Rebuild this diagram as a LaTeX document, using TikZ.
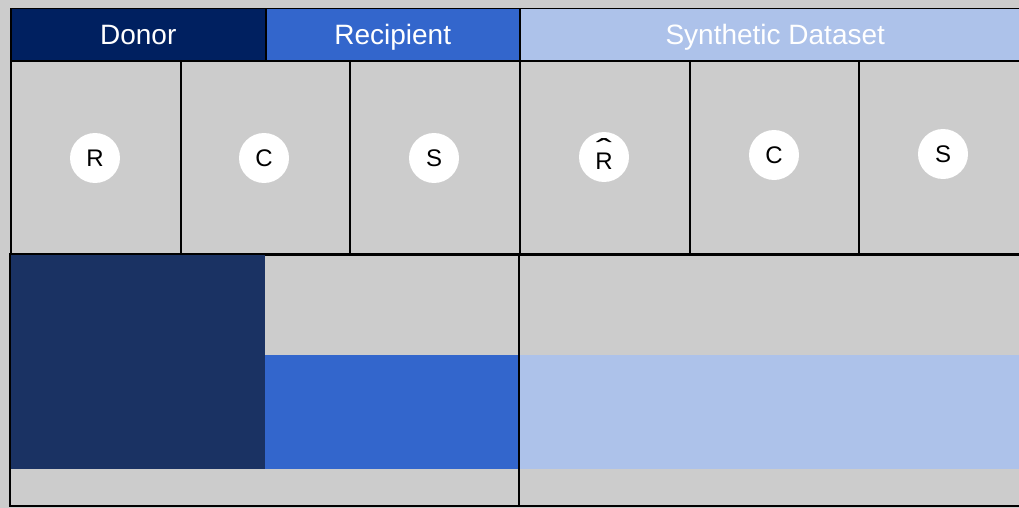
\documentclass[tikz,border=0pt]{standalone}
\usepackage{fontspec}
\setmainfont{Liberation Sans}
\definecolor{donor}{HTML}{002060}
\definecolor{recip}{HTML}{3366CC}
\definecolor{synth}{HTML}{ADC2EA}
\definecolor{donorblk}{HTML}{1A3263}
\definecolor{cellgray}{HTML}{CCCCCC}
% R with a wide circumflex set well above it
\newcommand{\Rhat}{\vphantom{R}\smash{\raisebox{-4.5pt}{R\kern-0.694em\raisebox{0.415em}{\scalebox{2}[1.2]{\char"02C6}}\kern0.028em}}}
\begin{document}
\begin{tikzpicture}[x=1pt,y=-1pt,
  hdr/.style={draw=black, line width=1.5pt, text=white, anchor=north west,
    inner sep=0pt, minimum height=52pt, text height=20pt, text depth=0pt,
    font=\fontsize{28}{32}\selectfont},
  cell/.style={draw=black, line width=2pt, fill=cellgray, anchor=north west,
    inner sep=0pt, minimum height=194pt},
  badge/.style={circle, fill=white, minimum size=50pt, inner sep=0pt,
    font=\fontsize{24}{28}\selectfont},
  frame/.style={draw=black, line width=2pt}]
\useasboundingbox (0,0) rectangle (1019,508);
\begin{scope}
\clip (0,0) rectangle (1019,508);
\fill[cellgray] (0,0) rectangle (1019,508);

% header row
\node[hdr, fill=donor, minimum width=255pt] (hdonor) at (10,8) {Donor};
\node[hdr, fill=recip, minimum width=254pt] (hrecip) at (265,8) {Recipient};
\node[hdr, fill=synth, minimum width=511pt] (hsynth) at (519,8) {Synthetic Dataset};

% variable cells
\node[cell, minimum width=170pt] (c1) at (10,60) {};
\node[cell, minimum width=169pt] (c2) at (180,60) {};
\node[cell, minimum width=170pt] (c3) at (349,60) {};
\node[cell, minimum width=170pt] (c4) at (519,60) {};
\node[cell, minimum width=169pt] (c5) at (689,60) {};
\node[cell, minimum width=170pt] (c6) at (858,60) {};

\node[badge] (bR) at (95,158) {R};
\node[badge] (bC) at (264,158) {C};
\node[badge] (bS) at (434,158) {S};
\node[badge] (bRh) at (604,157) {\Rhat};
\node[badge] (bC2) at (774,155) {C};
\node[badge] (bS2) at (943,154) {S};

% record blocks
\fill[donorblk] (10,254) rectangle (265,469);
\fill[recip] (265,355) rectangle (519,469);
\fill[synth] (519,355) rectangle (1030,469);
\draw[frame] (10,254) rectangle (1030,506);
\draw[frame] (519,254) -- (519,506);
\end{scope}
\end{tikzpicture}
\end{document}
